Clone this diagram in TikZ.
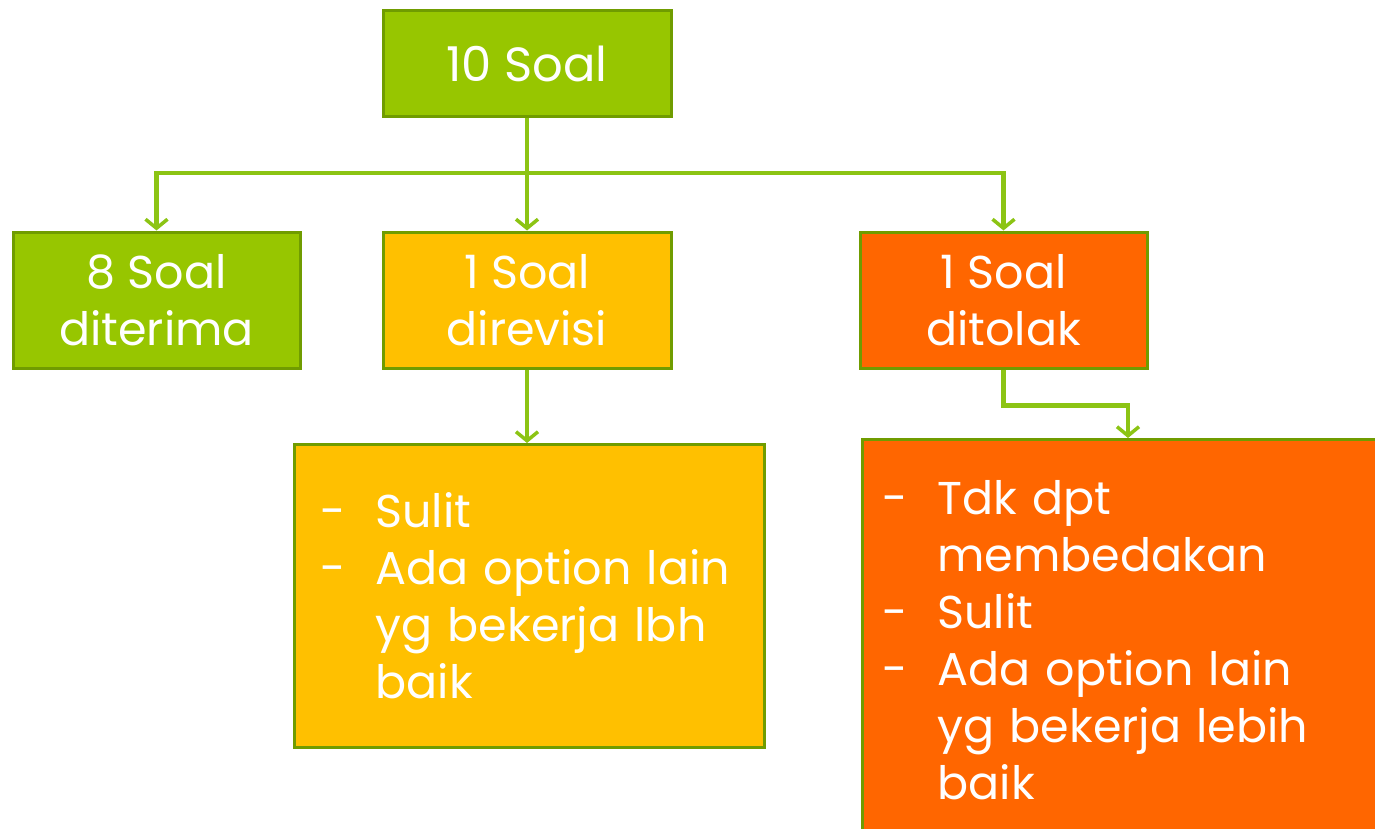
\documentclass[tikz,border=0pt]{standalone}
\usepackage{fontspec}
\setmainfont{Poppins}
\usetikzlibrary{arrows.meta}
\definecolor{leaf}{RGB}{151,198,0}
\definecolor{leafedge}{RGB}{112,156,0}
\definecolor{amber}{RGB}{255,192,0}
\definecolor{tang}{RGB}{255,102,0}
\definecolor{wire}{RGB}{140,196,20}
\tikzset{
  card/.style={draw=leafedge, line width=3pt, text=white, inner sep=0pt,
    font=\fontsize{46}{57}\selectfont, align=center},
  listcard/.style={card, align=left, anchor=north west},
  wire/.style={draw=wire, line width=4.5pt,
    -{Straight Barb[length=9pt,width=22pt,line width=3.5pt]}},
}
\newcommand{\itm}[1]{\mbox{\makebox[55pt][l]{-}#1}}
\newcommand{\cont}[1]{\mbox{\hspace*{55pt}#1}}
\begin{document}
\begin{tikzpicture}[x=1pt,y=-1pt]
  \useasboundingbox (0,0) rectangle (1375,829);

  % root and the three outcome cards
  \node[card, fill=leaf, minimum width=288pt, minimum height=106pt,
        font=\fontsize{48}{57}\selectfont] (root) at (527,64) {10 Soal};
  \node[card, fill=leaf, minimum width=287pt, minimum height=136pt] (acc) at (156.5,300) {8 Soal\\diterima};
  \node[card, fill=amber, minimum width=288pt, minimum height=136pt] (rev) at (527,300) {1 Soal\\direvisi};
  \node[card, fill=tang, minimum width=287pt, minimum height=136pt] (rej) at (1003.5,300) {1 Soal\\ditolak};

  % detail cards
  \node[listcard, fill=amber, minimum width=470pt, minimum height=303pt,
        text width=418pt, inner xsep=26pt] (revd) at (293,443)
    {\itm{Sulit}\\ \itm{Ada option lain}\\ \cont{yg bekerja lbh}\\ \cont{baik}};
  \node[listcard, fill=tang, minimum width=530pt, minimum height=402pt,
        text width=490pt, inner xsep=20pt] (rejd) at (861,438)
    {\itm{Tdk dpt}\\ \cont{membedakan}\\ \itm{Sulit}\\ \itm{Ada option lain}\\ \cont{yg bekerja lebih}\\ \cont{baik}};

  % connectors
  \coordinate (split) at (527,173);
  \draw[wire, -] (root.south) -- (split);
  \draw[wire] (split) -| (acc.north);
  \draw[wire] (split) -- (rev.north);
  \draw[wire] (split) -| (rej.north);
  \draw[wire] (rev.south) -- (rev.south |- revd.north);
  \draw[wire] (rej.south) -- ++(0,36) -| ([xshift=267pt]rejd.north west);
\end{tikzpicture}
\end{document}
